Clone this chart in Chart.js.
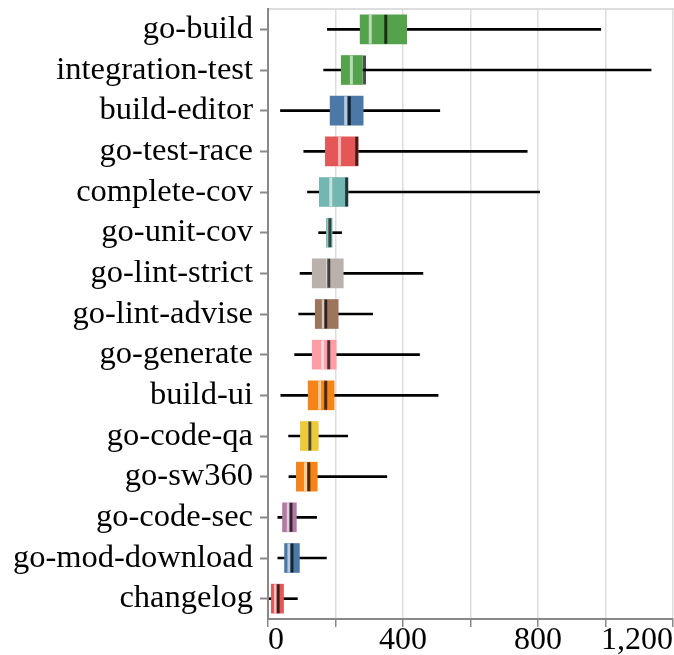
<!DOCTYPE html>
<html>
<head>
<meta charset="utf-8">
<script src="https://cdn.jsdelivr.net/npm/chart.js@4"></script>
<style>
  html, body { margin: 0; padding: 0; background: #fff; overflow: hidden; }
  #wrap { width: 674px; height: 655px; }
</style>
</head>
<body>
<div id="wrap"><canvas id="chartJobs"></canvas></div>
<script>
const jobs = [
    'go-build', 'integration-test', 'build-editor', 'go-test-race', 'complete-cov',
    'go-unit-cov', 'go-lint-strict', 'go-lint-advise', 'go-generate', 'build-ui',
    'go-code-qa', 'go-sw360', 'go-code-sec', 'go-mod-download', 'changelog'
];

// durations
const whiskerMin = [176, 165, 37, 106, 117, 150, 95, 91, 79, 38, 61, 62, 29, 29, 4];
const whiskerMax = [986, 1135, 509, 768, 805, 218, 459, 310, 449, 504, 236, 352, 144, 173, 87];
const q1 = [273, 217, 184, 170, 152, 173, 131, 140, 131, 119, 96, 84, 43, 49, 10];
const q3 = [411, 280, 282, 267, 237, 190, 223, 208, 202, 196, 149, 146, 84, 93, 46];
const median = [303, 247, 230, 212, 186, 181, 177, 164, 162, 153, 124, 111, 60, 62, 22];
const mean = [349, 286, 241, 263, 233, 183, 180, 171, 180, 171, 124, 121, 68, 71, 30];

const boxColors = [
    '#54a24b', '#54a24b', '#4c78a8', '#e45756', '#72b7b2',
    '#72b7b2', '#bab0ac', '#9d755d', '#ff9da6', '#f58518',
    '#eeca3b', '#f58518', '#b279a2', '#4c78a8', '#e45756'
];

const xTicks = [0, 400, 800, 1200];

const fontFamily = "'Liberation Serif', 'Times New Roman', serif";

const ctx = document.getElementById('chartJobs').getContext('2d');

const jobsChart = new Chart(ctx, {
    type: 'bar',
    data: {
        labels: jobs,
        datasets: [
            {
                label: 'range',
                data: jobs.map((_, i) => [whiskerMin[i], whiskerMax[i]]),
                backgroundColor: '#000',
                barThickness: 2,
                grouped: false,
                order: 4
            },
            {
                label: 'iqr',
                data: jobs.map((_, i) => [q1[i], q3[i]]),
                backgroundColor: boxColors,
                barThickness: 29,
                grouped: false,
                order: 3
            },
            {
                type: 'line',
                label: 'median',
                indexAxis: 'y',
                data: median,
                showLine: false,
                pointStyle: 'line',
                pointRadius: 14.5,
                pointRotation: 90,
                pointBorderWidth: 3,
                pointBorderColor: 'rgba(255,255,255,0.6)',
                order: 2
            },
            {
                type: 'line',
                label: 'mean',
                indexAxis: 'y',
                data: mean,
                showLine: false,
                pointStyle: 'line',
                pointRadius: 14.5,
                pointRotation: 90,
                pointBorderWidth: 3,
                pointBorderColor: 'rgba(0,0,0,0.7)',
                order: 1
            }
        ]
    },
    options: {
        indexAxis: 'y',
        responsive: true,
        maintainAspectRatio: false,
        animation: false,
        events: [],
        layout: {
            autoPadding: false,
            padding: { top: 9, right: 1, left: 0, bottom: 0 }
        },
        plugins: {
            legend: { display: false },
            tooltip: { enabled: false }
        },
        scales: {
            x: {
                type: 'linear',
                position: 'bottom',
                min: 0,
                max: 1200,
                afterFit: (scale) => {
                    scale.height = 36;
                    scale.paddingLeft = 0;
                    scale.paddingRight = 0;
                },
                ticks: {
                    stepSize: 200,
                    align: 'inner',
                    maxRotation: 0,
                    minRotation: 0,
                    autoSkip: false,
                    padding: 0,
                    color: '#000',
                    font: { family: fontFamily, size: 32, lineHeight: 0.85 },
                    callback: (v) => xTicks.includes(v) ? v.toLocaleString('en-US') : ''
                },
                grid: {
                    color: '#ddd',
                    lineWidth: 1.5,
                    tickColor: '#888',
                    tickLength: 8,
                    tickWidth: 1.5
                },
                border: { color: '#888', width: 2 }
            },
            x2: {
                type: 'linear',
                position: 'top',
                min: 0,
                max: 1200,
                afterFit: (scale) => {
                    scale.height = 0;
                    scale.paddingLeft = 0;
                    scale.paddingRight = 0;
                },
                ticks: { display: false },
                grid: { display: false, drawTicks: false },
                border: { color: '#ddd', width: 2 }
            },
            y: {
                type: 'category',
                afterFit: (scale) => {
                    scale.width = 268;
                    scale.paddingTop = 0;
                    scale.paddingBottom = 0;
                },
                ticks: {
                    autoSkip: false,
                    padding: 7,
                    color: '#000',
                    font: { family: fontFamily, size: 32.5 }
                },
                grid: {
                    offset: false,
                    drawOnChartArea: false,
                    tickColor: '#888',
                    tickLength: 8,
                    tickWidth: 2
                },
                border: { color: '#888', width: 2 }
            }
        }
    }
});
</script>
</body>
</html>
